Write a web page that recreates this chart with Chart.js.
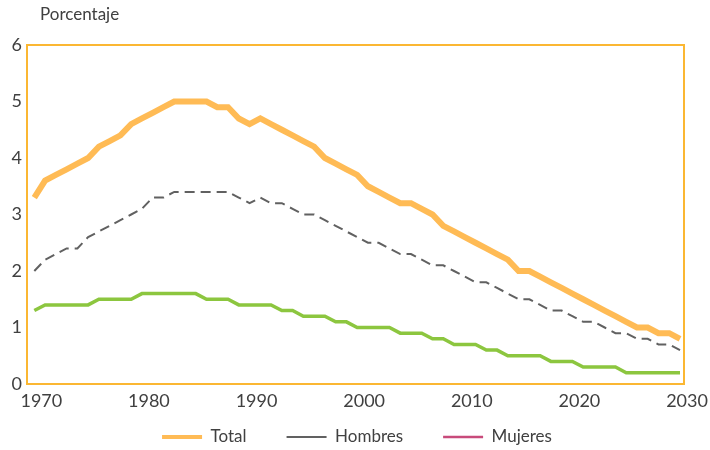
<!DOCTYPE html>
<html>
<head>
<meta charset="utf-8">
<script src="https://cdn.jsdelivr.net/npm/chart.js@4"></script>
<style>
    html, body { margin: 0; padding: 0; background: #ffffff; }
    #wrap { width: 710px; height: 450px; }
</style>
</head>
<body>
<div id="wrap"><canvas id="chart-1"></canvas></div>
<script>
//////////////////////////////////////////////// data
const years = [
    1970, 1971, 1972, 1973, 1974, 1975, 1976, 1977, 1978, 1979,
    1980, 1981, 1982, 1983, 1984, 1985, 1986, 1987, 1988, 1989,
    1990, 1991, 1992, 1993, 1994, 1995, 1996, 1997, 1998, 1999,
    2000, 2001, 2002, 2003, 2004, 2005, 2006, 2007, 2008, 2009,
    2010, 2011, 2012, 2013, 2014, 2015, 2016, 2017, 2018, 2019,
    2020, 2021, 2022, 2023, 2024, 2025, 2026, 2027, 2028, 2029,
    2030
]
const total = [
    3.3, 3.6, 3.7, 3.8, 3.9, 4.0, 4.2, 4.3, 4.4, 4.6,
    4.7, 4.8, 4.9, 5.0, 5.0, 5.0, 5.0, 4.9, 4.9, 4.7,
    4.6, 4.7, 4.6, 4.5, 4.4, 4.3, 4.2, 4.0, 3.9, 3.8,
    3.7, 3.5, 3.4, 3.3, 3.2, 3.2, 3.1, 3.0, 2.8, 2.7,
    2.6, 2.5, 2.4, 2.3, 2.2, 2.0, 2.0, 1.9, 1.8, 1.7,
    1.6, 1.5, 1.4, 1.3, 1.2, 1.1, 1.0, 1.0, 0.9, 0.9,
    0.8
]
const hombres = [
    2.0, 2.2, 2.3, 2.4, 2.4, 2.6, 2.7, 2.8, 2.9, 3.0,
    3.1, 3.3, 3.3, 3.4, 3.4, 3.4, 3.4, 3.4, 3.4, 3.3,
    3.2, 3.3, 3.2, 3.2, 3.1, 3.0, 3.0, 2.9, 2.8, 2.7,
    2.6, 2.5, 2.5, 2.4, 2.3, 2.3, 2.2, 2.1, 2.1, 2.0,
    1.9, 1.8, 1.8, 1.7, 1.6, 1.5, 1.5, 1.4, 1.3, 1.3,
    1.2, 1.1, 1.1, 1.0, 0.9, 0.9, 0.8, 0.8, 0.7, 0.7,
    0.6
]
const mujeres = [
    1.3, 1.4, 1.4, 1.4, 1.4, 1.4, 1.5, 1.5, 1.5, 1.5,
    1.6, 1.6, 1.6, 1.6, 1.6, 1.6, 1.5, 1.5, 1.5, 1.4,
    1.4, 1.4, 1.4, 1.3, 1.3, 1.2, 1.2, 1.2, 1.1, 1.1,
    1.0, 1.0, 1.0, 1.0, 0.9, 0.9, 0.9, 0.8, 0.8, 0.7,
    0.7, 0.7, 0.6, 0.6, 0.5, 0.5, 0.5, 0.5, 0.4, 0.4,
    0.4, 0.3, 0.3, 0.3, 0.3, 0.2, 0.2, 0.2, 0.2, 0.2,
    0.2
]
const xTicks = [1970, 1980, 1990, 2000, 2010, 2020, 2030]
const seriesNames = ['Total', 'Hombres', 'Mujeres']

const textColor = '#404040'
const frameColor = '#FBB732'

function points(values) {
    return values.map((v, i) => ({ x: years[i], y: v }))
}

// orange frame round the plot area + "Porcentaje" on top
const framePlugin = {
    id: 'frame',
    afterLayout(chart) {
        // legend items sit lower than its wide padding would allow, pull the box up
        if (chart.legend) {
            chart.legend.top -= 25.5
            chart.legend.left += 15
            chart.legend.right += 15
        }
    },
    afterDraw(chart) {
        const a = chart.chartArea
        const c = chart.ctx
        c.save()
        c.strokeStyle = frameColor
        c.lineWidth = 2
        c.strokeRect(a.left, a.top, a.right - a.left, a.bottom - a.top)
        c.fillStyle = textColor
        c.font = '17px Lato'
        c.textBaseline = 'middle'
        c.fillText('Porcentaje', 40, 15)
        c.restore()
    }
}

//////////////////////////////////////////////// Chart-1
const ctx1 = document.getElementById('chart-1');

new Chart(ctx1, {
    type: 'line',
    data: {
        datasets: [{
            label: seriesNames[0],
            data: points(total),
            borderColor: '#FFBB55',
            backgroundColor: '#FFBB55',
            borderWidth: 6,
            order: 1
        }, {
            label: seriesNames[1],
            data: points(hombres),
            borderColor: '#616161',
            backgroundColor: '#616161',
            borderWidth: 2,
            borderDash: [10, 6],
            order: 2
        }, {
            label: seriesNames[2],
            data: points(mujeres),
            borderColor: '#8CC63F',
            backgroundColor: '#8CC63F',
            borderWidth: 3.5,
            order: 3
        }]
    },
    options: {
        responsive: true,
        maintainAspectRatio: false,
        animation: false,
        elements: {
            point: { radius: 0 },
            line: { tension: 0 }
        },
        layout: {
            padding: { left: 0, right: 26, top: 45, bottom: 0 }
        },
        scales: {
            x: {
                type: 'linear',
                min: 1969.32,
                max: 2030.37,
                grid: { display: false, drawTicks: false },
                border: { display: false },
                afterBuildTicks: (axis) => {
                    axis.ticks = xTicks.map(v => ({ value: v }))
                },
                afterFit: (axis) => { axis.height = 30 },
                ticks: {
                    color: textColor,
                    font: { family: 'Lato', size: 18 },
                    padding: 6,
                    labelOffset: 7,
                    maxRotation: 0,
                    autoSkip: false,
                    callback: (v) => String(v)
                }
            },
            y: {
                min: 0,
                max: 6,
                grid: { display: false, drawTicks: false },
                border: { display: false },
                afterFit: (axis) => { axis.width = 27 },
                ticks: {
                    stepSize: 1,
                    color: textColor,
                    font: { family: 'Lato', size: 18 },
                    padding: 5
                }
            }
        },
        plugins: {
            legend: {
                display: true,
                position: 'bottom',
                maxHeight: 36,
                labels: {
                    color: textColor,
                    font: { family: 'Lato', size: 17 },
                    usePointStyle: true,
                    pointStyle: 'line',
                    pointStyleWidth: 40,
                    padding: 40,
                    generateLabels: (chart) => {
                        const items = Chart.defaults.plugins.legend.labels.generateLabels(chart)
                        items.forEach(it => { it.pointStyle = 'line' })
                        items[0].lineWidth = 4
                        items[2].strokeStyle = '#C84B7B'
                        items[2].lineWidth = 2.5
                        return items
                    }
                }
            },
            tooltip: { enabled: false }
        }
    },
    plugins: [framePlugin]
});
</script>
</body>
</html>
